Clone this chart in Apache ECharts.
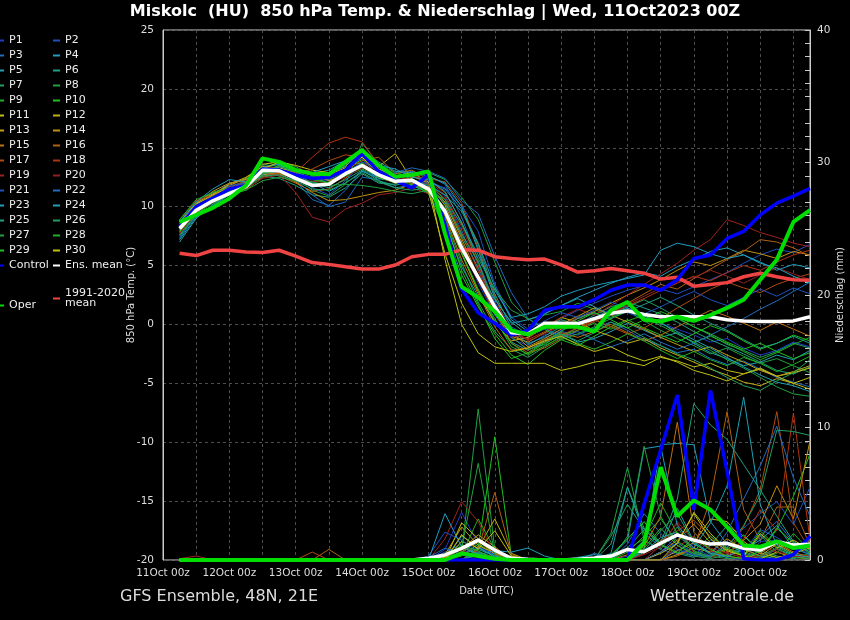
<!DOCTYPE html>
<html>
<head>
<meta charset="utf-8">
<title>Miskolc 850 hPa Temp. & Niederschlag</title>
<script src="https://cdn.jsdelivr.net/npm/echarts@6.0.0/dist/echarts.min.js"></script>
<style>
  html, body { margin: 0; padding: 0; background: #000; }
  #chart_container { width: 850px; height: 620px; }
</style>
</head>
<body>
<div id="chart_container"></div>
<script>
// forecast hours after 11Oct 00z, one value every 6h
const hours = [6, 12, 18, 24, 30, 36, 42, 48, 54, 60, 66, 72, 78, 84, 90, 96, 102, 108, 114, 120,
  126, 132, 138, 144, 150, 156, 162, 168, 174, 180, 186, 192, 198, 204, 210, 216, 222, 228, 234]
const dayLabels = ['11Oct 00z', '12Oct 00z', '13Oct 00z', '14Oct 00z', '15Oct 00z',
  '16Oct 00z', '17Oct 00z', '18Oct 00z', '19Oct 00z', '20Oct 00z']

// 850 hPa temperature (°C)
const tP1 = [7.6,9.6,10.4,11.3,11.6,12.9,13.0,12.6,12.1,12.3, 13.3,14.1,12.9,12.0,12.3,11.8,10.2,6.8,3.5,0.8, -1.2,-1.8,-0.9,-0.5,0.2,0.6,1.3,1.0,0.4,0.1, -0.4,-0.9,-1.5,-1.2,-2.0,-2.6,-2.2,-1.5,-1.9]
const tP2 = [8.8,10.2,10.9,11.2,11.9,13.0,13.3,12.9,12.5,12.2, 12.9,13.8,13.2,12.6,12.8,12.0,10.9,8.0,4.6,1.9, -0.2,-1.0,-0.4,0.5,1.2,1.8,2.4,2.9,3.3,3.0, 2.6,3.2,3.8,4.4,5.2,5.9,6.4,6.1,6.8]
const tP3 = [7.3,9.4,10.7,11.6,12.2,12.8,12.7,12.2,10.6,10.1, 11.4,13.1,12.5,12.8,13.0,12.6,11.9,9.1,5.4,1.8, -0.8,-1.6,-1.1,-0.6,-0.9,-0.3,0.2,-0.5,-1.3,-1.8, -2.4,-2.1,-2.9,-3.4,-3.1,-3.8,-4.5,-4.9,-5.3]
const tP4 = [8.1,9.8,11.0,12.0,12.3,13.4,13.6,12.8,12.0,11.3, 12.0,13.0,12.4,12.1,12.6,12.2,11.5,9.8,6.9,3.2, 0.4,-0.6,0.9,1.6,2.3,2.9,3.5,4.0,4.4,4.1, 4.9,5.5,6.2,6.5,5.9,5.3,4.6,5.1,4.8]
const tP5 = [7.0,9.0,10.2,11.0,11.9,12.9,13.5,13.2,12.8,13.1, 13.9,13.6,12.2,11.6,11.8,11.2,8.5,4.9,2.4,0.3, -1.5,-2.2,-1.4,-0.8,-1.5,-1.2,-0.6,0.1,-0.5,-1.1, -0.7,-1.6,-2.4,-2.9,-3.5,-3.2,-2.6,-3.0,-2.2]
const tP6 = [8.4,10.1,10.8,11.5,11.8,12.6,12.4,11.8,11.0,10.8, 11.6,12.8,12.0,11.9,12.3,11.9,10.6,7.5,4.8,2.1, 0.2,-0.9,-0.2,0.4,0.0,0.8,1.5,1.9,1.4,0.9, 0.2,-0.6,-1.3,-1.9,-2.5,-3.2,-3.9,-4.2,-3.6]
const tP7 = [8.9,10.4,11.2,11.7,12.1,13.5,13.9,13.4,12.6,12.3, 13.0,14.3,13.1,12.4,12.0,11.3,9.0,5.2,1.9,-0.6, -2.1,-2.8,-1.9,-1.0,-0.3,0.2,0.9,1.5,2.1,1.4, 0.6,-0.2,-0.9,-1.7,-2.2,-2.8,-2.3,-1.6,-2.0]
const tP8 = [8.2,9.7,10.5,11.4,11.5,12.7,13.1,12.5,11.4,10.9, 11.9,15.4,13.6,12.9,12.5,12.9,12.3,10.8,8.9,5.3, 1.9,0.4,0.8,1.1,1.8,1.3,0.6,1.2,0.3,-0.5, -1.2,-1.8,-2.5,-2.0,-2.7,-3.3,-2.9,-3.5,-4.1]
const tP9 = [7.5,9.3,10.1,11.1,11.4,12.5,12.9,12.3,11.9,12.1, 12.6,13.2,12.6,12.1,12.4,11.6,9.9,6.1,3.0,0.5, -1.9,-2.5,-1.6,-0.9,-0.5,0.1,-0.4,0.3,0.8,0.2, -0.8,-1.5,-1.0,-1.6,-2.3,-3.0,-2.4,-1.7,-1.1]
const tP10 = [8.6,10.0,10.6,11.4,12.0,13.3,13.7,13.0,12.7,12.5, 13.2,14.0,13.0,12.3,12.0,11.1,8.1,4.2,1.5,-0.8, -2.6,-3.4,-2.2,-1.3,-1.8,-1.0,-0.2,0.4,-0.3,-0.9, -1.5,-0.8,-0.1,-0.6,-1.4,-2.1,-1.6,-0.9,-1.4]
const tP11 = [8.7,10.3,11.1,11.8,12.4,13.6,13.8,13.5,13.1,12.9, 13.4,14.9,13.2,12.6,12.9,12.1,5.5,0.0,-2.4,-3.3, -3.3,-3.3,-3.3,-3.9,-3.6,-3.2,-3.0,-3.2,-3.5,-2.8, -3.1,-3.6,-3.3,-3.9,-4.2,-3.8,-4.4,-4.1,-3.7]
const tP12 = [8.0,9.9,11.0,11.9,12.5,13.4,13.3,12.9,12.4,12.8, 13.6,14.7,13.4,14.5,12.3,11.6,9.4,6.0,2.8,0.1, -1.4,-1.1,-0.3,0.6,0.2,-0.5,-1.0,-1.6,-1.2,-2.0, -2.6,-3.2,-3.8,-4.3,-4.9,-5.2,-4.6,-5.0,-5.5]
const tP13 = [7.9,9.5,10.4,11.2,11.7,12.7,12.9,13.0,12.8,12.2, 12.7,13.4,12.7,12.5,12.6,12.0,10.1,7.0,3.9,0.9, -1.0,-1.5,-0.7,0.0,0.7,1.4,0.8,0.2,-0.4,-1.1, -1.7,-2.3,-1.9,-2.6,-3.2,-3.9,-4.4,-4.0,-3.5]
const tP14 = [8.5,10.2,11.3,12.0,12.3,12.9,12.8,12.1,11.2,10.5, 10.6,10.9,11.2,11.4,11.9,11.7,10.4,7.3,4.1,1.2, -0.6,-1.9,-1.2,-0.4,0.5,1.1,1.8,2.5,3.1,3.8, 4.6,5.3,5.0,5.6,6.3,6.0,5.6,6.2,5.9]
const tP15 = [8.3,9.8,10.7,11.5,12.1,13.0,12.6,12.0,11.3,11.5, 12.4,13.7,12.8,12.2,12.0,11.4,9.2,5.5,2.6,-0.2, -2.2,-2.0,-1.3,-0.7,-1.1,-0.6,0.0,-0.7,-1.4,-0.9, -0.2,0.5,1.2,0.7,0.1,-0.5,0.2,-0.4,-1.0]
const tP16 = [7.8,9.6,10.6,11.3,11.9,12.6,12.8,12.4,12.1,12.5, 13.1,13.9,14.2,12.8,13.1,12.3,11.2,8.7,5.1,1.3, -1.6,-2.4,-2.0,-1.2,-0.5,0.3,1.0,1.8,2.6,3.4, 3.0,3.9,4.7,5.5,6.2,7.2,7.0,6.5,5.8]
const tP17 = [8.4,10.0,10.9,11.6,11.8,12.5,12.9,12.7,13.2,13.9, 14.4,14.2,12.5,12.0,12.5,12.4,12.1,10.3,6.5,2.4, -1.0,-2.2,-1.5,-0.9,-0.3,0.4,-0.2,-0.8,-0.3,0.5, 1.4,2.2,3.0,3.6,3.1,2.7,3.4,3.9,4.3]
const tP18 = [8.9,10.5,11.0,11.7,12.2,12.8,13.1,12.9,14.2,15.4, 15.9,15.5,13.6,12.6,12.2,11.9,10.7,7.8,4.5,1.6, -0.5,-1.3,-0.6,0.1,-0.4,0.3,0.9,1.6,2.2,2.9, 3.5,4.1,3.7,4.4,5.0,4.6,5.3,5.9,6.3]
const tP19 = [7.7,9.4,10.3,11.1,11.5,12.4,12.7,11.2,9.1,8.7, 9.8,10.3,11.0,11.2,11.6,11.1,9.5,6.3,3.7,1.1, -0.9,-1.2,-0.2,0.6,1.3,0.8,1.6,2.5,3.4,4.3, 5.2,6.3,7.2,8.9,8.4,7.8,7.4,6.9,6.6]
const tP20 = [8.6,10.1,10.9,11.5,12.0,13.2,13.4,13.0,12.2,12.0, 12.5,13.3,12.7,12.3,12.7,12.2,11.0,8.3,5.0,1.7, -0.4,-1.4,-0.8,-0.1,0.6,0.2,0.9,1.7,2.4,3.1, 3.6,4.0,4.6,4.1,3.5,4.2,4.8,4.3,3.8]
const tP21 = [8.0,9.7,10.6,11.8,12.0,13.1,13.2,12.6,11.6,11.0, 12.2,13.8,13.0,12.4,12.1,12.0,11.6,10.1,7.9,3.4, 0.6,-0.4,0.3,1.0,0.6,1.2,1.9,1.4,0.9,1.5, 2.2,2.8,2.1,1.6,2.3,3.0,2.4,3.1,2.6]
const tP22 = [7.4,9.2,10.1,11.0,11.7,12.8,13.0,12.3,11.0,10.0, 10.4,12.5,12.3,12.9,13.3,13.0,12.4,10.5,9.4,5.8, 2.7,0.5,-0.3,-1.1,-0.6,-1.3,-1.9,-1.4,-0.8,-1.5, -2.1,-1.6,-0.9,-0.2,0.5,1.3,2.0,2.8,3.6]
const tP23 = [8.7,10.4,11.5,12.3,12.1,13.3,13.6,13.1,12.9,13.4, 13.9,14.4,13.5,13.2,12.5,12.3,11.3,8.6,5.9,2.9, 0.6,0.9,1.5,2.4,2.9,3.3,3.6,3.9,4.2,6.3, 6.9,6.6,6.0,5.6,5.9,5.2,4.8,4.1,3.5]
const tP24 = [7.2,9.1,10.0,11.1,11.8,12.7,13.4,13.0,12.3,12.6, 13.5,14.6,13.8,13.0,12.9,12.6,12.0,10.0,6.3,2.2, 0.1,0.4,0.9,1.6,2.2,1.5,0.8,1.4,0.7,0.1, -0.6,-1.3,-2.0,-2.8,-3.6,-4.3,-4.9,-5.2,-5.7]
const tP25 = [8.1,9.9,10.8,11.4,11.9,12.9,13.0,12.5,12.0,11.6, 12.3,13.1,12.2,11.8,12.2,11.8,11.0,9.6,6.8,2.6, -0.3,-1.7,-1.0,-0.2,0.5,1.0,0.5,1.1,1.7,2.3, 1.6,0.8,0.1,-0.5,-1.3,-2.0,-1.6,-1.0,-1.6]
const tP26 = [8.3,10.0,10.9,11.3,11.6,12.6,12.7,12.2,11.5,11.4, 12.0,12.9,12.1,11.6,11.4,11.6,10.3,7.7,5.3,1.5, -1.1,-2.1,-1.7,-0.8,-1.4,-0.7,0.2,-0.3,-1.1,-1.8, -2.5,-3.0,-3.7,-4.5,-5.2,-5.6,-4.8,-4.1,-3.0]
const tP27 = [7.6,9.4,10.3,11.0,11.4,12.2,12.5,12.2,12.1,11.8, 11.9,11.8,11.6,11.3,11.1,11.4,10.6,8.5,5.6,3.0, 1.2,0.5,-0.4,-1.3,-0.8,-0.2,0.5,1.2,0.6,-0.1, -0.8,-1.5,-2.2,-3.0,-3.7,-4.5,-5.3,-5.9,-6.1]
const tP28 = [8.9,10.6,11.2,11.6,11.8,12.8,13.1,12.7,12.3,12.0, 12.7,13.6,12.6,12.0,11.9,11.2,9.4,6.1,2.9,0.3, -1.6,-2.6,-1.8,-1.1,-1.6,-2.1,-1.5,-0.8,-1.4,-2.2, -2.9,-2.3,-3.0,-3.5,-2.8,-3.3,-4.0,-3.4,-2.7]
const tP29 = [7.9,9.6,10.5,11.2,11.8,12.9,13.5,12.8,12.5,12.0, 12.8,13.7,12.4,12.2,12.3,11.5,8.9,4.6,1.7,-1.2, -2.9,-2.4,-1.5,-0.6,0.3,1.0,0.4,-0.3,0.4,1.1, 0.5,-0.2,-0.8,-1.5,-2.1,-1.6,-2.3,-2.9,-2.4]
const tP30 = [8.5,10.2,11.0,11.6,11.9,13.2,13.8,13.2,12.9,12.7, 13.3,14.2,12.9,12.0,12.2,11.3,6.0,1.8,-0.8,-1.9, -2.3,-2.0,-1.4,-1.0,-1.7,-2.3,-1.9,-2.6,-3.1,-2.7, -3.2,-3.9,-4.3,-4.8,-4.2,-3.7,-4.4,-5.0,-4.5]
const tControl = [8.3,10.0,10.7,11.5,11.8,13.2,13.1,12.7,12.4,12.5, 13.1,14.5,13.0,12.2,11.6,12.7,8.5,3.0,1.0,0.1, -0.9,-0.5,1.2,1.5,1.5,2.1,2.9,3.35,3.35,2.9, 3.8,5.6,5.9,7.3,7.9,9.3,10.3,10.9,11.55]
const tOper = [8.7,9.3,9.9,10.7,11.8,14.1,13.8,13.1,12.8,12.75, 13.8,14.8,13.5,12.55,12.7,13.0,7.7,3.2,2.3,1.1, -0.5,-0.85,-0.2,-0.2,-0.2,-0.6,1.2,1.9,0.4,0.25, 0.65,0.3,0.8,1.4,2.1,3.8,5.5,8.7,9.7]
const tMean = [8.15,9.7,10.5,11.1,11.7,13.1,13.05,12.4,11.8,11.9, 12.8,13.5,12.7,12.15,12.25,11.5,9.6,6.5,4.0,1.5, -0.7,-0.8,0.1,0.1,0.05,0.5,0.95,1.15,0.85,0.65, 0.65,0.65,0.65,0.4,0.3,0.25,0.25,0.3,0.65]
const tClim = [6.05,5.85,6.3,6.3,6.15,6.1,6.3,5.8,5.25,5.1, 4.9,4.7,4.7,5.05,5.75,5.95,5.95,6.35,6.3,5.75, 5.6,5.5,5.55,5.05,4.45,4.55,4.75,4.55,4.35,3.85, 4.0,3.25,3.4,3.55,4.05,4.35,4.05,3.8,3.75]

// 6-hourly precipitation (mm)
const rP1 = [0,0,0,0,0,0,0,0,0,0, 0,0,0,0,0,0,0.8,3.6,1.2,0.3, 0,0,0,0,0,0,0,0.3,1.5,0.8, 0.4,1.2,0.6,0.2,0,1.4,1.5,0.9,0.5]
const rP2 = [0,0,0,0,0,0,0,0,0,0, 0,0,0,0,0,0,0,0.5,1.0,0.4, 0,0,0,0,0,0,0,0,0,0.6, 1.8,0.9,0.3,1.1,2.4,3.5,4.4,2.7,5.5]
const rP3 = [0,0,0,0,0,0,0,0,0,0, 0,0,0,0,0,0,0.6,1.2,0.4,0, 0,0,0,0,0,0,0,1.2,3.5,2.0, 0.8,0.3,1.5,0.9,0.4,1.8,2.9,1.3,0.6]
const rP4 = [0,0,0,0,0,0,0,0,0,0, 0,0,0,0,0,0,0.3,0.9,0.5,0, 0,0,0,0,0,0,0,0,0.8,8.7, 8.8,8.7,2.9,1.2,0.5,0.2,0.8,0.4,0.3]
const rP5 = [0,0,0,0,0,0,0,0,0,0, 0,0,0,0,0,0,0,1.8,1.0,0.2, 0,0,0,0,0,0,0.5,5.5,2.0,1.0, 3.9,1.4,0.5,0.2,0.9,0.3,0.1,0.6,1.0]
const rP6 = [0,0,0,0,0,0,0,0,0,0, 0,0,0,0,0,0,0,0,0.8,0.3, 0,0,0,0,0,0,0,0.9,2.3,1.2, 0.5,0.2,1.1,2.6,1.8,0.7,0.3,0.1,0.4]
const rP7 = [0,0,0,0,0,0,0,0,0,0, 0,0,0,0,0,0,0.2,0.5,1.5,0.6, 0,0,0,0,0,0,1.8,4.2,2.3,1.1, 0.6,0.3,0.1,0.4,1.0,0.5,0.2,0.3,0.1]
const rP8 = [0,0,0,0,0,0,0,0,0,0, 0,0,0,0,0,0,0,0.6,11.4,0.8, 0,0,0,0,0,0,2.0,7.0,1.5,0.8, 2.5,0.6,0.3,0.1,0.2,1.9,0.6,0.2,0.5]
const rP9 = [0,0,0,0,0,0,0,0,0,0, 0,0,0,0,0,0,0,0.3,1.2,0.5, 0,0,0,0,0,0,0,0.6,1.8,3.1, 1.4,0.7,0.2,0.9,0.4,0.1,0.5,2.0,0.7]
const rP10 = [0,0,0,0,0,0,0,0,0,0, 0,0,0,0,0,0,0,0,0.9,9.3, 0.3,0,0,0,0,0,0,0,0.9,2.4, 1.1,0.4,0.2,0.8,1.9,0.6,2.3,4.8,8.0]
const rP11 = [0,0,0,0,0,0,0,0,0,0, 0,0,0,0,0,0,0,2.8,1.6,0.4, 0,0,0,0,0,0,0,0,0,0.5, 1.2,3.6,2.0,0.8,0.3,0.1,0.6,0.2,0.1]
const rP12 = [0,0,0,0,0,0,0,0,0,0, 0,0,0,0,0,0,0,1.4,0.9,3.1, 0.5,0,0,0,0,0,0,0,0,0, 0.7,1.3,3.1,2.9,1.4,0.5,0.2,0.4,0.2]
const rP13 = [0,0,0,0,0,0,0,0,0,0, 0,0,0,0,0,0,0.4,2.5,1.1,0.5, 0,0,0,0,0,0,0,0,0,0, 0.4,0.9,0.6,1.6,0.8,0.3,1.2,0.5,0.9]
const rP14 = [0,0,0,0,0,0,0,0,0,0, 0,0,0,0,0,0,0.2,0.8,1.9,1.0, 0,0,0,0,0,0,0,0,0,0.6, 1.5,2.7,1.3,0.5,1.5,2.7,5.6,3.1,9.0]
const rP15 = [0,0,0,0,0,0,0,0,0,0, 0,0,0,0,0,0,0,0.6,1.4,0.5, 0,0,0,0,0,0,0,0.4,1.0,3.3, 10.4,2.1,0.8,0.3,0.1,0.5,1.3,0.6,0.2]
const rP16 = [0,0,0,0,0,0,0,0,0,0.8, 0,0,0,0,0,0,0,0,0.8,5.1, 0.4,0,0,0,0,0,0,0,0,0, 0.3,0.9,4.6,11.2,3.8,1.5,4.0,4.0,1.1]
const rP17 = [0,0,0,0,0,0,0,0,0.6,0, 0,0,0,0,0,0,0,0.9,0.6,0.2, 0,0,0,0,0,0,0,0,0.5,1.5, 2.2,3.0,1.8,0.6,2.5,5.3,11.2,2.8,0.8]
const rP18 = [0,0,0,0,0,0,0,0,0,0, 0,0,0,0,0,0,0,0,0.4,0, 0,0,0,0,0,0,0,0,0,0, 1.0,1.8,0.7,0.3,1.6,3.8,2.2,11.1,1.5]
const rP19 = [0.1,0.3,0,0,0,0,0,0,0,0, 0,0,0,0,0,0,1.6,4.4,2.9,0.4, 0,0,0,0,0,0,0,0,0,1.1, 2.8,0.5,0.2,0.6,0.1,0.3,0.8,0.2,0.4]
const rP20 = [0,0,0,0,0,0,0,0,0,0, 0,0,0,0,0,0,0,0.7,0.3,0, 0,0,0,0,0,0,0,0,0.4,1.0, 2.9,1.4,0.9,0.5,0.2,1.1,0.6,0.3,0.2]
const rP21 = [0,0,0,0,0,0,0,0,0,0, 0,0,0,0,0,0.3,2.1,1.5,0.6,0, 0,0,0,0,0,0,0,0,0,0, 0.8,0.4,0.2,1.4,0.6,2.3,1.7,0.9,1.2]
const rP22 = [0,0,0,0,0,0,0,0,0,0, 0,0,0,0,0,0.2,0.9,0.4,0,0, 0,0,0,0,0,0.5,0.2,0,0,0.6, 1.3,0.5,0.3,2.1,4.6,7.1,10.1,6.2,3.3]
const rP23 = [0,0,0,0,0,0,0,0,0,0, 0,0,0,0,0,0,3.5,1.0,0.4,0.7, 0.6,0.9,0.3,0,0,0,0.3,1.5,8.4,8.6, 2.6,1.2,0.5,0.3,0.8,1.5,2.6,0.9,0.4]
const rP24 = [0,0,0,0,0,0,0,0,0,0, 0,0,0,0,0,0,0,0.4,0.9,0.3, 0,0,0,0,0.2,0.4,0.1,0,0.6,1.7, 2.1,0.9,2.8,5.6,12.3,4.2,1.1,0.4,0.2]
const rP25 = [0,0,0,0,0,0,0,0,0,0, 0,0,0,0,0,0,0,0,0.5,0, 0,0,0,0,0,0,1.2,5.5,2.4,1.3, 4.6,11.8,10.2,9.1,7.2,5.3,3.3,1.4,0.6]
const rP26 = [0,0,0,0,0,0,0,0,0,0, 0,0,0,0,0,0,0,0,0.6,0.2, 0,0,0,0,0,0,0,0,0.7,2.2, 3.5,1.3,0.4,0.9,2.6,4.9,9.8,9.7,9.4]
const rP27 = [0,0,0,0,0,0,0,0,0,0, 0,0,0,0,0,0,0,0.9,7.3,0.4, 0,0,0,0,0,0,0,1.8,8.6,3.3, 1.1,0.5,0.2,1.2,0.6,0.3,0.9,0.2,0.1]
const rP28 = [0,0,0,0,0,0,0,0,0,0, 0,0,0,0,0,0,0,0.4,3.1,0.8, 0,0,0,0,0,0,0,0.8,1.6,4.3, 2.0,0.7,1.8,0.9,0.3,2.2,1.0,0.4,1.6]
const rP29 = [0,0,0,0,0,0,0,0,0,0, 0,0,0,0,0,0,0.3,1.1,0.7,0, 0,0,0,0,0,0,0.4,1.6,2.9,1.2, 0.5,1.7,0.8,0.3,0.1,0.7,2.4,1.3,0.5]
const rP30 = [0,0,0,0,0,0,0,0,0,0, 0,0,0,0,0,0,0,1.9,0.8,2.2, 0.3,0,0,0,0,0,0,0,0,0, 1.3,3.5,1.6,0.7,0.3,2.0,0.9,1.5,0.8]
const rControl = [0,0,0,0,0,0,0,0,0,0, 0,0,0,0,0,0,0,0,0,0, 0,0,0,0,0,0,0,0,4.2,8.3, 12.45,3.8,12.8,6.7,0.1,0,0,0.4,1.8]
const rOper = [0,0,0,0,0,0,0,0,0,0, 0,0,0,0,0,0,0,0.5,0.3,0.1, 0,0,0,0,0,0,0,0,1.3,7.0, 3.3,4.5,3.8,2.5,1.1,1.0,1.4,0.9,1.1]
const rMean = [0,0,0,0,0,0,0,0,0,0, 0,0,0,0,0,0.13,0.38,0.88,1.5,0.75, 0.13,0.05,0,0,0.05,0.15,0.3,0.8,0.63,1.26, 1.9,1.5,1.2,1.26,0.88,0.75,1.38,1.13,1.18]

const memberTemp = [tP1, tP2, tP3, tP4, tP5, tP6, tP7, tP8, tP9, tP10, tP11, tP12, tP13, tP14, tP15,
  tP16, tP17, tP18, tP19, tP20, tP21, tP22, tP23, tP24, tP25, tP26, tP27, tP28, tP29, tP30]
const memberRain = [rP1, rP2, rP3, rP4, rP5, rP6, rP7, rP8, rP9, rP10, rP11, rP12, rP13, rP14, rP15,
  rP16, rP17, rP18, rP19, rP20, rP21, rP22, rP23, rP24, rP25, rP26, rP27, rP28, rP29, rP30]
const memberColors = ['#1f3cc4', '#1f50c0', '#1f6cc0', '#1f9cc0', '#1fa0b0', '#1fa080', '#1fa060', '#1fa040', '#1fb020', '#20c020',
  '#c0c010', '#c0b010', '#c0a010', '#c09010', '#c07010', '#b06010', '#b04a10', '#b03410', '#a02020', '#902020',
  '#1f50c0', '#1f6cc0', '#1f9cc0', '#1fa0b0', '#1fa080', '#1fa060', '#1fa040', '#1fb020', '#20c020', '#c0c010']

const FONT = 'DejaVu Sans'

document.addEventListener('DOMContentLoaded', buildChart)

function lineSeries(name, values, color, width, axisIndex) {
    return {
        name: name,
        type: 'line',
        yAxisIndex: axisIndex,
        data: hours.map((h, i) => [h, values[i]]),
        symbol: 'none',
        silent: true,
        emphasis: { disabled: true },
        lineStyle: { color: color, width: width },
        itemStyle: { color: color }
    }
}

function buildChart() {
    let chart = echarts.init(document.getElementById('chart_container'))

    let memberNames = memberTemp.map((_, i) => 'P' + (i + 1))
    let series = []

    //thin member lines first, temperature then precipitation
    memberTemp.forEach((vals, i) => series.push(lineSeries(memberNames[i], vals, memberColors[i], 1, 0)))
    memberRain.forEach((vals, i) => series.push(lineSeries(memberNames[i], vals, memberColors[i], 1, 1)))

    //thick lines on top
    series.push(lineSeries('1991-2020 mean', tClim, '#f04444', 3.5, 0))
    series.push(lineSeries('Control', tControl, '#0000ff', 3.5, 0))
    series.push(lineSeries('Control', rControl, '#0000ff', 3.5, 1))
    series.push(lineSeries('Ens. mean', tMean, '#ffffff', 3.5, 0))
    series.push(lineSeries('Ens. mean', rMean, '#ffffff', 3.5, 1))
    series.push(lineSeries('Oper', tOper, '#00dd00', 4, 0))
    series.push(lineSeries('Oper', rOper, '#00dd00', 4, 1))

    let col1 = memberNames.filter((_, i) => i % 2 === 0).concat(['Control'])
    let col2 = memberNames.filter((_, i) => i % 2 === 1).concat(['Ens. mean'])

    let legendBase = {
        orient: 'vertical', icon: 'rect', itemWidth: 7, itemHeight: 2, itemGap: 4,
        padding: 0, selectedMode: false,
        textStyle: { color: '#eeeeee', fontSize: 11, lineHeight: 11, fontFamily: FONT }
    }

    let dashed = { color: '#4d4d4d', type: [3, 3], width: 1 }

    let option = {
        backgroundColor: '#000000',
        animation: false,
        textStyle: { fontFamily: FONT },
        title: [
            {
                text: 'Miskolc  (HU)  850 hPa Temp. & Niederschlag | Wed, 11Oct2023 00Z',
                left: 435, top: 4, padding: 0, textAlign: 'center',
                textStyle: { color: '#ffffff', fontSize: 16, fontWeight: 'bold', fontFamily: FONT }
            },
            {
                text: 'GFS Ensemble, 48N, 21E', left: 120, top: 589, padding: 0,
                textStyle: { color: '#dddddd', fontSize: 16, fontWeight: 'normal', fontFamily: FONT }
            },
            {
                text: 'Wetterzentrale.de', right: 56, top: 589, padding: 0,
                textStyle: { color: '#dddddd', fontSize: 16, fontWeight: 'normal', fontFamily: FONT }
            }
        ],
        legend: [
            Object.assign({}, legendBase, { left: -3, top: 35, data: col1 }),
            Object.assign({}, legendBase, { left: 53, top: 35, data: col2 }),
            Object.assign({}, legendBase, { left: -3, top: 300, data: ['Oper'] }),
            Object.assign({}, legendBase, {
                left: 53, top: 288, data: ['1991-2020 mean'],
                formatter: name => name.replace(' ', '\n'),
                textStyle: { color: '#eeeeee', fontSize: 11, lineHeight: 10, fontFamily: FONT }
            })
        ],
        grid: {
            left: 163, right: 40, top: 30, bottom: 60, outerBoundsMode: 'none',
            show: true, borderColor: '#cccccc', borderWidth: 1
        },
        xAxis: {
            type: 'value', min: 0, max: 234, interval: 12,
            axisLine: { show: false }, axisTick: { show: false },
            axisLabel: {
                color: '#dddddd', fontSize: 10.5, margin: 8,
                formatter: v => (v % 24 === 0 && dayLabels[v / 24]) ? dayLabels[v / 24] : ''
            },
            splitLine: { show: true, lineStyle: dashed },
            name: 'Date (UTC)', nameLocation: 'middle', nameGap: 26, nameMoveOverlap: false,
            nameTextStyle: { color: '#dddddd', fontSize: 10 }
        },
        yAxis: [
            {
                type: 'value', position: 'left', min: -20, max: 25, interval: 5,
                axisLine: { show: true, lineStyle: { color: '#cccccc' } },
                axisTick: { show: false },
                axisLabel: { color: '#dddddd', fontSize: 10.5, margin: 9 },
                splitLine: { show: true, lineStyle: dashed },
                name: '850 hPa Temp. (°C)', nameLocation: 'middle', nameGap: 27, nameMoveOverlap: false,
                nameTextStyle: { color: '#dddddd', fontSize: 10 }
            },
            {
                type: 'value', position: 'right', min: 0, max: 40, interval: 10,
                axisLine: { show: true, lineStyle: { color: '#cccccc' } },
                axisTick: { show: true, inside: true, length: 5, lineStyle: { color: '#cccccc' } },
                minorTick: { show: true, splitNumber: 10, length: 5, lineStyle: { color: '#cccccc' } },
                axisLabel: { color: '#dddddd', fontSize: 10.5, margin: 7 },
                splitLine: { show: false },
                name: 'Niederschlag (mm)', nameLocation: 'middle', nameGap: 25, nameMoveOverlap: false,
                nameTextStyle: { color: '#dddddd', fontSize: 10 }
            }
        ],
        series: series
    }

    chart.setOption(option)
}
</script>
</body>
</html>
